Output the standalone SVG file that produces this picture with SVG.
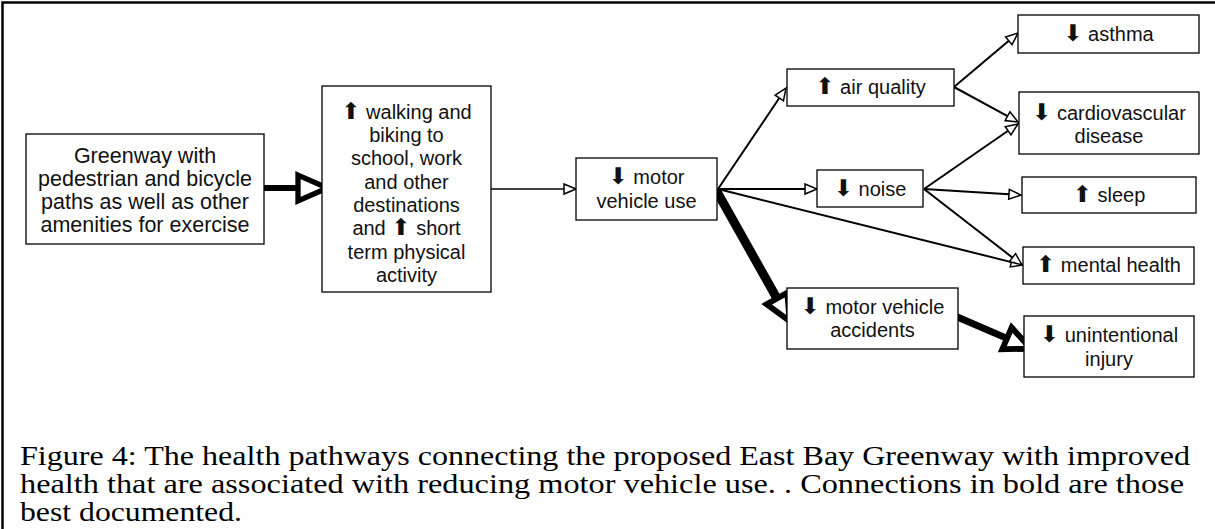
<svg xmlns="http://www.w3.org/2000/svg" width="1215" height="529" viewBox="0 0 1215 529">
<style>
.box{fill:#fff;stroke:#000;stroke-width:1.3}
.t{font-family:"Liberation Sans",Arial,sans-serif;font-size:20px;fill:#111;text-anchor:middle}
.g{font-size:21.5px}
.ar{font-family:"DejaVu Sans",sans-serif;font-size:23px}
.c{stroke:#000;fill:none;stroke-linecap:butt}
.thin{stroke-width:2;marker-end:url(#m1)}
.cap{font-family:"Liberation Serif","Times New Roman",serif;font-size:27px;fill:#000}
</style>
<defs>
<marker id="m1" markerUnits="userSpaceOnUse" markerWidth="18" markerHeight="18" viewBox="-2 -9 16 18" refX="0" refY="0" orient="auto" overflow="visible">
<path d="M0,-5 L12,0 L0,5 Z" fill="#fff" stroke="#000" stroke-width="1.5" stroke-linejoin="miter"/>
</marker>
<marker id="m2" markerUnits="userSpaceOnUse" markerWidth="40" markerHeight="40" viewBox="-4 -16 34 32" refX="0" refY="0" orient="auto" overflow="visible">
<path d="M0,-11 L25,0 L0,11 Z" fill="#fff" stroke="#000" stroke-width="4.5" stroke-linejoin="miter"/>
</marker>
<marker id="m3" markerUnits="userSpaceOnUse" markerWidth="40" markerHeight="40" viewBox="-4 -16 34 32" refX="0" refY="0" orient="auto" overflow="visible">
<path d="M0,-10 L22,0 L0,10 Z" fill="#fff" stroke="#000" stroke-width="5" stroke-linejoin="miter"/>
</marker>
</defs>
<rect width="1215" height="529" fill="#fff"/>
<path d="M2.5,529 V2.5 H1215" fill="none" stroke="#000" stroke-width="2.5"/>

<g id="connectors">
<line class="c" x1="262" y1="188" x2="298" y2="188" stroke-width="6" marker-end="url(#m2)"/>
<line class="c" x1="491" y1="189" x2="564" y2="189" stroke-width="1.5" marker-end="url(#m1)"/>
<line class="c thin" x1="718" y1="189" x2="779.3" y2="98"/>
<line class="c thin" x1="718" y1="189" x2="805" y2="189"/>
<line class="c thin" x1="718" y1="189" x2="1011.4" y2="262.1"/>
<line class="c thin" x1="954" y1="87" x2="1008.8" y2="40.8"/>
<line class="c thin" x1="954" y1="87" x2="1007.5" y2="116.2"/>
<line class="c thin" x1="924" y1="189" x2="1008.1" y2="130.8"/>
<line class="c thin" x1="924" y1="189" x2="1009" y2="194.3"/>
<line class="c thin" x1="924" y1="189" x2="1012.5" y2="257.6"/>
<line class="c" x1="716" y1="190" x2="777" y2="298.5" stroke-width="9" marker-end="url(#m3)"/>
<line class="c" x1="955" y1="316" x2="1007" y2="338.4" stroke-width="7" marker-end="url(#m3)"/>
</g>

<g id="greenway">
<rect class="box" x="26" y="134" width="238" height="110"/>
<text class="t g" x="145" y="163">Greenway with</text>
<text class="t g" x="145" y="186">pedestrian and bicycle</text>
<text class="t g" x="145" y="209">paths as well as other</text>
<text class="t g" x="145" y="232">amenities for exercise</text>
</g>

<g id="walking">
<rect class="box" x="322" y="86" width="169" height="206"/>
<text class="t" x="406.5" y="119"><tspan class="ar">⬆</tspan> walking and</text>
<text class="t" x="406.5" y="142">biking to</text>
<text class="t" x="406.5" y="165">school, work</text>
<text class="t" x="406.5" y="189">and other</text>
<text class="t" x="406.5" y="212">destinations</text>
<text class="t" x="406.5" y="235">and <tspan class="ar">⬆</tspan> short</text>
<text class="t" x="406.5" y="259">term physical</text>
<text class="t" x="406.5" y="282">activity</text>
</g>

<g id="motor-vehicle-use">
<rect class="box" x="576" y="158" width="141" height="62"/>
<text class="t" x="646.5" y="184"><tspan class="ar">⬇</tspan> motor</text>
<text class="t" x="646.5" y="208">vehicle use</text>
</g>

<g id="air-quality">
<rect class="box" x="787" y="69" width="167" height="37"/>
<text class="t" x="870.5" y="94"><tspan class="ar">⬆</tspan> air quality</text>
</g>

<g id="noise">
<rect class="box" x="817" y="170" width="106" height="37"/>
<text class="t" x="870" y="196"><tspan class="ar">⬇</tspan> noise</text>
</g>

<g id="motor-vehicle-accidents">
<rect class="box" x="787" y="288" width="171" height="61"/>
<text class="t" x="872.5" y="314"><tspan class="ar">⬇</tspan> motor vehicle</text>
<text class="t" x="872.5" y="337">accidents</text>
</g>

<g id="asthma">
<rect class="box" x="1018" y="15" width="181" height="38"/>
<text class="t" x="1108.5" y="41"><tspan class="ar">⬇</tspan> asthma</text>
</g>

<g id="cardiovascular">
<rect class="box" x="1019" y="92" width="180" height="62"/>
<text class="t" x="1109" y="120"><tspan class="ar">⬇</tspan> cardiovascular</text>
<text class="t" x="1109" y="143">disease</text>
</g>

<g id="sleep">
<rect class="box" x="1022" y="177" width="174" height="36"/>
<text class="t" x="1109" y="202"><tspan class="ar">⬆</tspan> sleep</text>
</g>

<g id="mental-health">
<rect class="box" x="1023" y="247" width="171" height="37"/>
<text class="t" x="1108.5" y="272"><tspan class="ar">⬆</tspan> mental health</text>
</g>

<g id="unintentional-injury">
<rect class="box" x="1024" y="316" width="170" height="61"/>
<text class="t" x="1109" y="342"><tspan class="ar">⬇</tspan> unintentional</text>
<text class="t" x="1109" y="366">injury</text>
</g>

<g id="caption">
<text class="cap" x="20" y="465" textLength="1170" lengthAdjust="spacingAndGlyphs">Figure 4: The health pathways connecting the proposed East Bay Greenway with improved</text>
<text class="cap" x="20" y="493" textLength="1164" lengthAdjust="spacingAndGlyphs">health that are associated with reducing motor vehicle use. .  Connections in bold are those</text>
<text class="cap" x="20" y="521" textLength="222" lengthAdjust="spacingAndGlyphs">best documented.</text>
</g>
</svg>
